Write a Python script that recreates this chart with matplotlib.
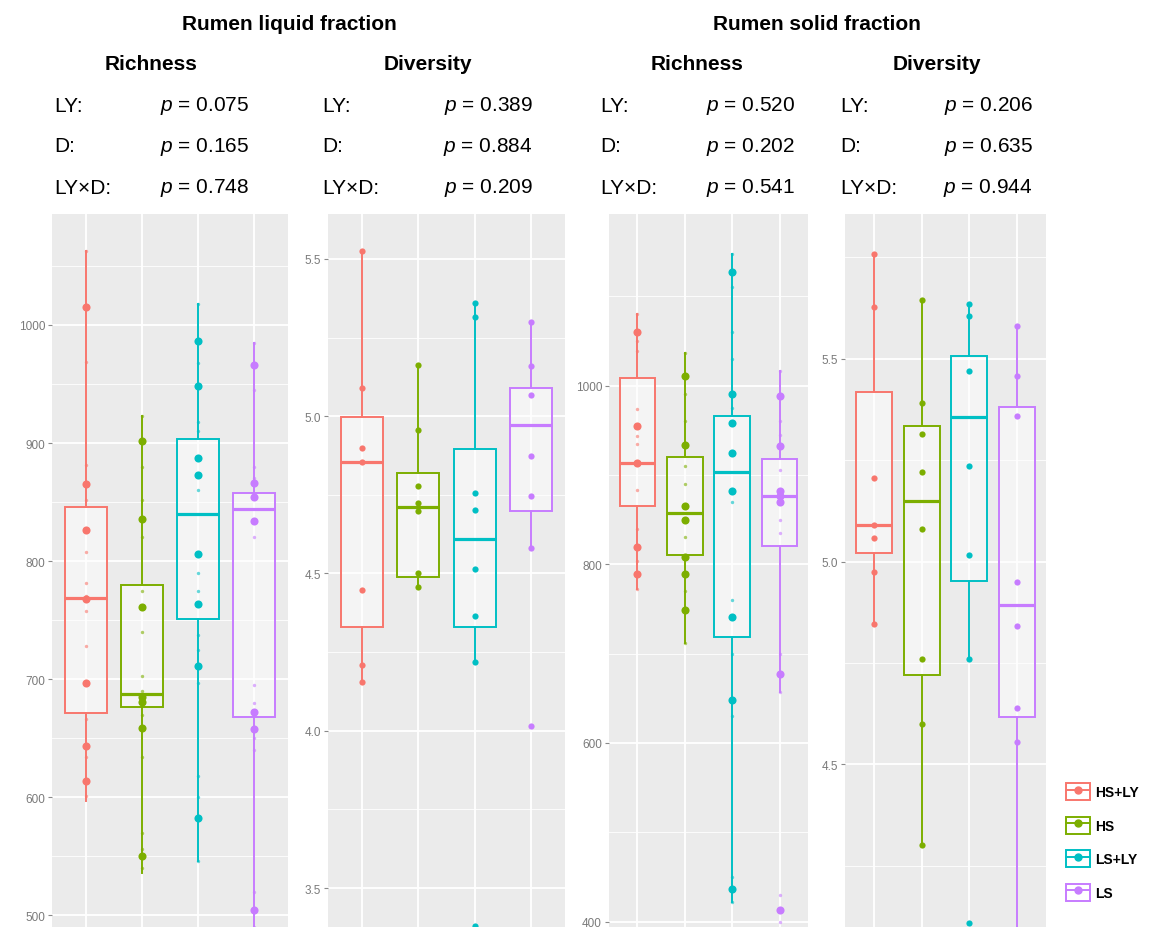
import matplotlib
matplotlib.use("Agg")
import matplotlib.pyplot as plt
from matplotlib.patches import Patch
from matplotlib.lines import Line2D
from matplotlib.legend_handler import HandlerTuple
from matplotlib.ticker import FormatStrFormatter
import numpy as np

plt.rcParams['font.family'] = ['Liberation Sans', 'DejaVu Sans']
plt.rcParams['mathtext.fontset'] = 'custom'
plt.rcParams['mathtext.it'] = 'Liberation Sans:italic'
plt.rcParams['mathtext.rm'] = 'Liberation Sans'

groups = ["HS+LY", "HS", "LS+LY", "LS"]
colors = ["#F8766D", "#7CAE00", "#00BFC4", "#C77CFF"]

# ---- rumen liquid fraction, richness ----
lr_q1 = [671, 676, 751, 668]
lr_med = [769, 687, 840, 844]
lr_q3 = [846, 780, 903, 858]
lr_lo = [597, 536, 546, 485]
lr_hi = [1063, 923, 1018, 985]
lr_pts = [
    [1015, 865, 826, 768, 697, 643, 614],
    [902, 836, 761, 685, 681, 659, 550],
    [986, 948, 887, 873, 806, 764, 711, 582],
    [966, 866, 854, 834, 672, 658, 504],
]
lr_small = [
    [1063, 969, 881, 852, 808, 781, 770, 758, 728, 666, 634, 601],
    [923, 880, 852, 820, 775, 740, 703, 690, 670, 634, 570, 556, 540],
    [1018, 968, 918, 910, 860, 790, 775, 737, 725, 697, 618, 600, 546],
    [985, 945, 880, 870, 820, 695, 680, 650, 640, 520, 490],
]

# ---- rumen liquid fraction, diversity ----
ld_q1 = [4.33, 4.49, 4.33, 4.70]
ld_med = [4.856, 4.71, 4.61, 4.973]
ld_q3 = [4.997, 4.82, 4.897, 5.09]
ld_lo = [4.155, 4.455, 4.22, 4.58]
ld_hi = [5.525, 5.163, 5.36, 5.30]
ld_pts = [
    [5.525, 5.09, 4.90, 4.856, 4.446, 4.21, 4.155],
    [5.163, 4.957, 4.778, 4.724, 4.70, 4.50, 4.458],
    [5.36, 5.316, 4.757, 4.703, 4.513, 4.365, 4.22, 3.38],
    [5.30, 5.16, 5.066, 4.875, 4.745, 4.58, 4.015],
]

# ---- rumen solid fraction, richness ----
sr_q1 = [865, 810, 719, 820]
sr_med = [913, 857, 903, 876]
sr_q3 = [1008, 920, 966, 918]
sr_lo = [772, 712, 422, 657]
sr_hi = [1080, 1036, 1147, 1016]
sr_pts = [
    [1060, 955, 913, 819, 789],
    [1011, 933, 865, 849, 808, 789, 749],
    [1127, 991, 958, 925, 882, 741, 648, 436],
    [988, 932, 882, 876, 870, 677, 413],
]
sr_small = [
    [1080, 1050, 1039, 974, 944, 935, 883, 840, 804, 772],
    [1036, 990, 960, 910, 890, 830, 770, 712],
    [1147, 1110, 1060, 1030, 975, 870, 760, 700, 630, 450, 422],
    [1016, 960, 945, 905, 850, 835, 700, 657, 430, 400],
]

# ---- rumen solid fraction, diversity ----
sd_q1 = [5.02, 4.72, 4.953, 4.618]
sd_med = [5.089, 5.15, 5.357, 4.894]
sd_q3 = [5.419, 5.335, 5.507, 5.38]
sd_lo = [4.847, 4.30, 4.76, 4.08]
sd_hi = [5.759, 5.645, 5.635, 5.58]
sd_pts = [
    [5.759, 5.628, 5.207, 5.089, 5.057, 4.975, 4.847],
    [5.645, 5.39, 5.315, 5.22, 5.08, 4.76, 4.60, 4.30],
    [5.635, 5.606, 5.47, 5.236, 5.017, 4.76, 4.11],
    [5.58, 5.458, 5.36, 4.95, 4.84, 4.64, 4.555, 4.08],
]

# p-values per panel: LY, D, LY x D
stat_labels = ["LY:", "D:", "LY×D:"]
p_values = [
    ["0.075", "0.165", "0.748"],
    ["0.389", "0.884", "0.209"],
    ["0.520", "0.202", "0.541"],
    ["0.206", "0.635", "0.944"],
]
fractions = ["Rumen liquid fraction", "Rumen solid fraction"]
measures = ["Richness", "Diversity", "Richness", "Diversity"]

W, H = 1170, 928
fig = plt.figure(figsize=(W / 100, H / 100), dpi=100)


def px(x, y):
    return x / W, 1 - y / H


def draw_panel(rect, q1, med, q3, lo, hi, pts, small, ylim, major, minor, fmt, psize):
    ax = fig.add_axes(rect)
    ax.set_facecolor("#EBEBEB")
    for sp in ax.spines.values():
        sp.set_visible(False)
    for i in range(4):
        c = colors[i]
        st = dict(q1=q1[i], med=med[i], q3=q3[i], whislo=lo[i], whishi=hi[i], fliers=[])
        ax.bxp([st], positions=[i + 1], widths=0.75, showfliers=False, showcaps=False,
               patch_artist=True,
               boxprops=dict(facecolor=(1, 1, 1, 0.45), edgecolor=c, linewidth=1.4),
               medianprops=dict(color=c, linewidth=2.3),
               whiskerprops=dict(color=c, linewidth=1.4))
        if small is not None:
            ax.scatter(np.full(len(small[i]), i + 1), small[i], s=6, color=c,
                       alpha=0.6, lw=0, zorder=4)
        ax.scatter(np.full(len(pts[i]), i + 1), pts[i], s=psize, color=c, lw=0, zorder=5)
    ax.set_xlim(0.4, 4.6)
    ax.set_ylim(*ylim)
    ax.set_xticks([1, 2, 3, 4])
    ax.set_xticklabels([])
    ax.set_yticks(major)
    ax.set_yticks(minor, minor=True)
    ax.yaxis.set_major_formatter(FormatStrFormatter(fmt))
    ax.set_axisbelow(True)
    ax.grid(which="major", color="white", lw=1.3)
    ax.grid(which="minor", axis="y", color="white", lw=0.6)
    ax.tick_params(axis="x", length=0)
    ax.tick_params(axis="y", which="major", length=3, width=0.8, color="#8a8a8a",
                   labelsize=8.5, labelcolor="#7a7a7a", pad=2)
    ax.tick_params(axis="y", which="minor", length=0)
    return ax


top, bottom = 215, 928
h = (bottom - top) / H
panels = [
    (52, 236, lr_q1, lr_med, lr_q3, lr_lo, lr_hi, lr_pts, lr_small, (490, 1094),
     np.arange(500, 1001, 100), np.arange(550, 1100, 100), "%d", 34),
    (328, 237, ld_q1, ld_med, ld_q3, ld_lo, ld_hi, ld_pts, None, (3.376, 5.643),
     np.arange(3.5, 5.51, 0.5), np.arange(3.75, 5.6, 0.5), "%.1f", 20),
    (609, 199, sr_q1, sr_med, sr_q3, sr_lo, sr_hi, sr_pts, sr_small, (394, 1192),
     np.arange(400, 1001, 200), np.arange(500, 1200, 200), "%d", 34),
    (845, 201, sd_q1, sd_med, sd_q3, sd_lo, sd_hi, sd_pts, None, (4.099, 5.857),
     np.arange(4.5, 5.51, 0.5), np.arange(4.25, 5.8, 0.5), "%.1f", 20),
]
for (x0, w, *rest) in panels:
    draw_panel([x0 / W, 0, w / W, h], *rest)

# header text
col_left = [54, 322, 600, 840]
col_right = [249, 533, 795, 1033]
row_y = [106, 147, 188]
for k in range(4):
    cx = (col_left[k] + col_right[k]) / 2
    fig.text(*px(cx, 65), measures[k], fontsize=15, fontweight="bold",
             ha="center", va="center")
    for r in range(3):
        fig.text(*px(col_left[k], row_y[r]), stat_labels[r], fontsize=15,
                 ha="left", va="center")
        fig.text(*px(col_right[k], row_y[r]), r"$\mathit{p}$ = " + p_values[k][r],
                 fontsize=15, ha="right", va="center")
for j in range(2):
    cx = (col_left[2 * j] + col_right[2 * j] + col_left[2 * j + 1] + col_right[2 * j + 1]) / 4
    fig.text(*px(cx, 24), fractions[j], fontsize=15, fontweight="bold",
             ha="center", va="center")

# legend
handles = [(Patch(facecolor="white", edgecolor=c, lw=1.4),
            Line2D([], [], color=c, marker="o", markersize=5, lw=1.4)) for c in colors]
fig.legend(handles=handles, labels=groups, handler_map={tuple: HandlerTuple()},
           loc="upper left", bbox_to_anchor=px(1066, 784), frameon=False,
           prop=dict(family=["Liberation Sans Narrow", "Liberation Sans"],
                     weight="bold", size=10),
           handlelength=1.7, handleheight=1.5, labelspacing=1.2,
           handletextpad=0.4, borderpad=0, borderaxespad=0)

fig.savefig("out.png", dpi=100, facecolor="white")
